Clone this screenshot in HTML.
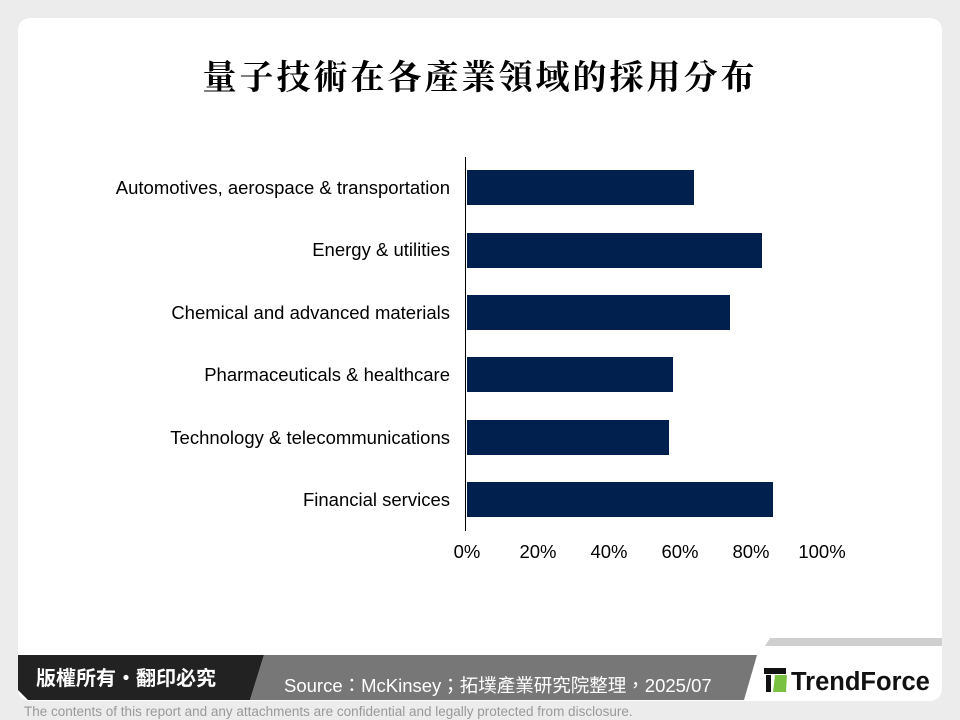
<!DOCTYPE html>
<html><head><meta charset="utf-8"><style>
body{margin:0;width:960px;height:720px;background:#ececec;overflow:hidden;font-family:"Liberation Sans","Noto Sans CJK TC",sans-serif;position:relative}
.card{position:absolute;left:18px;top:18px;width:924px;height:683px;background:#fff;border-radius:12px}
.t{position:absolute;left:0;width:960px;top:50px;text-align:center;font-family:"Noto Serif CJK TC","Noto Serif CJK SC",serif;font-weight:bold;font-size:34px;letter-spacing:3px;color:#000}
.lab{position:absolute;right:510px;font-size:18.5px;color:#000;white-space:nowrap}
.bar{position:absolute;left:467px;height:35px;background:#01204d}
.tick{position:absolute;top:541px;font-size:18.5px;width:70px;text-align:center;margin-left:-35px}
</style></head><body>
<div class="card"></div>
<div class="t">量子技術在各產業領域的採用分布</div>
<div style="position:absolute;left:465px;top:157px;width:1px;height:374px;background:#000"></div>
<div class="lab" style="top:177px">Automotives, aerospace &amp; transportation</div>
<div class="lab" style="top:239px">Energy &amp; utilities</div>
<div class="lab" style="top:302px">Chemical and advanced materials</div>
<div class="lab" style="top:364px">Pharmaceuticals &amp; healthcare</div>
<div class="lab" style="top:427px">Technology &amp; telecommunications</div>
<div class="lab" style="top:489px">Financial services</div>
<div class="bar" style="top:170px;width:227px"></div>
<div class="bar" style="top:233px;width:295px"></div>
<div class="bar" style="top:295px;width:263px"></div>
<div class="bar" style="top:357px;width:206px"></div>
<div class="bar" style="top:420px;width:202px"></div>
<div class="bar" style="top:482px;width:306px"></div>
<div class="tick" style="left:467px">0%</div>
<div class="tick" style="left:538px">20%</div>
<div class="tick" style="left:609px">40%</div>
<div class="tick" style="left:680px">60%</div>
<div class="tick" style="left:751px">80%</div>
<div class="tick" style="left:822px">100%</div>
<svg style="position:absolute;left:0;top:0" width="960" height="720">
<polygon points="770,638 942,638 942,646 765,646" fill="#cfcfcf"/>
<polygon points="18,655 264,655 250,700 28,700 18,690" fill="#222"/>
<polygon points="264,655 757,655 744,700 250,700" fill="#777"/>
<rect x="764" y="668" width="22" height="6" fill="#111"/>
<rect x="766" y="675" width="5" height="17" fill="#111"/>
<polygon points="775,675 787,675 786,692 773,692" fill="#7ac142"/>
<text x="791" y="690" font-family="Liberation Sans" font-weight="bold" font-size="25.5" fill="#111">TrendForce</text>
<text x="36" y="685" font-family="Noto Sans CJK TC" font-weight="bold" font-size="20" fill="#fff">版權所有・翻印必究</text>
<text x="284" y="692" font-family="Liberation Sans,Noto Sans CJK TC" font-size="18.5" fill="#fff">Source：McKinsey；拓墣產業研究院整理，2025/07</text>
<text x="24" y="716" font-family="Liberation Sans" font-size="13.5" fill="#999">The contents of this report and any attachments are confidential and legally protected from disclosure.</text>
</svg>
</body></html>
